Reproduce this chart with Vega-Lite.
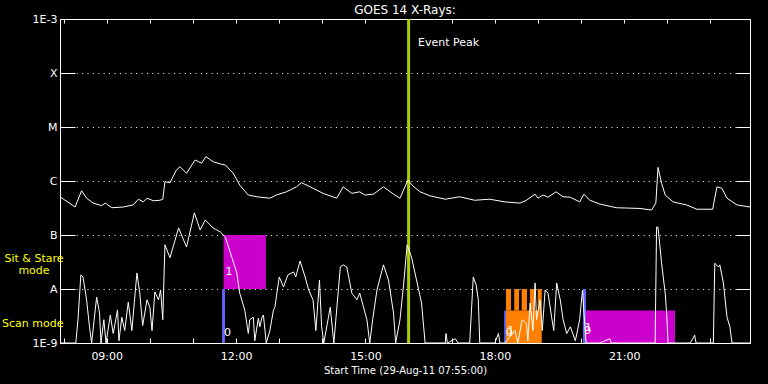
{
  "$schema": "https://vega.github.io/schema/vega-lite/v6.json",
  "autosize": {"type": "none"},
  "width": 690,
  "height": 324,
  "padding": {"left": 60, "top": 19, "right": 18, "bottom": 41},
  "background": "black",
  "config": {
    "view": {"stroke": "white", "strokeWidth": 1, "fill": "black"},
    "font": "DejaVu Sans",
    "axis": {"labelFont": "DejaVu Sans", "titleFont": "DejaVu Sans", "labelColor": "white", "titleColor": "white", "tickColor": "white", "domainColor": "white", "titleFontWeight": "normal"}
  },
  "title": {"text": "GOES 14 X-Rays:", "color": "white", "font": "DejaVu Sans", "fontSize": 12, "fontWeight": "normal", "anchor": "middle", "frame": "group", "offset": -4},
  "datasets": {
    "flux": [
      {"time": "2011-08-29T07:55Z", "flux": 5.1e-7, "channel": "long"},
      {"time": "2011-08-29T08:16Z", "flux": 3.3e-7, "channel": "long"},
      {"time": "2011-08-29T08:25Z", "flux": 6.6e-7, "channel": "long"},
      {"time": "2011-08-29T08:32Z", "flux": 4.8e-7, "channel": "long"},
      {"time": "2011-08-29T08:41Z", "flux": 3.9e-7, "channel": "long"},
      {"time": "2011-08-29T08:53Z", "flux": 3.5e-7, "channel": "long"},
      {"time": "2011-08-29T08:58Z", "flux": 3.9e-7, "channel": "long"},
      {"time": "2011-08-29T09:07Z", "flux": 3.2e-7, "channel": "long"},
      {"time": "2011-08-29T09:23Z", "flux": 3.3e-7, "channel": "long"},
      {"time": "2011-08-29T09:37Z", "flux": 3.6e-7, "channel": "long"},
      {"time": "2011-08-29T09:44Z", "flux": 4.6e-7, "channel": "long"},
      {"time": "2011-08-29T09:51Z", "flux": 4.1e-7, "channel": "long"},
      {"time": "2011-08-29T09:56Z", "flux": 4.8e-7, "channel": "long"},
      {"time": "2011-08-29T10:05Z", "flux": 4.3e-7, "channel": "long"},
      {"time": "2011-08-29T10:14Z", "flux": 4.4e-7, "channel": "long"},
      {"time": "2011-08-29T10:18Z", "flux": 4.6e-7, "channel": "long"},
      {"time": "2011-08-29T10:21Z", "flux": 9.7e-7, "channel": "long"},
      {"time": "2011-08-29T10:28Z", "flux": 9.3e-7, "channel": "long"},
      {"time": "2011-08-29T10:37Z", "flux": 1.6e-6, "channel": "long"},
      {"time": "2011-08-29T10:42Z", "flux": 1.84e-6, "channel": "long"},
      {"time": "2011-08-29T10:51Z", "flux": 1.39e-6, "channel": "long"},
      {"time": "2011-08-29T11:03Z", "flux": 2.45e-6, "channel": "long"},
      {"time": "2011-08-29T11:12Z", "flux": 2.13e-6, "channel": "long"},
      {"time": "2011-08-29T11:18Z", "flux": 2.83e-6, "channel": "long"},
      {"time": "2011-08-29T11:28Z", "flux": 2.28e-6, "channel": "long"},
      {"time": "2011-08-29T11:38Z", "flux": 2.07e-6, "channel": "long"},
      {"time": "2011-08-29T11:45Z", "flux": 1.98e-6, "channel": "long"},
      {"time": "2011-08-29T11:56Z", "flux": 1.39e-6, "channel": "long"},
      {"time": "2011-08-29T12:05Z", "flux": 8.4e-7, "channel": "long"},
      {"time": "2011-08-29T12:17Z", "flux": 5.5e-7, "channel": "long"},
      {"time": "2011-08-29T12:29Z", "flux": 5.1e-7, "channel": "long"},
      {"time": "2011-08-29T12:47Z", "flux": 4.8e-7, "channel": "long"},
      {"time": "2011-08-29T12:56Z", "flux": 5.5e-7, "channel": "long"},
      {"time": "2011-08-29T13:10Z", "flux": 6.3e-7, "channel": "long"},
      {"time": "2011-08-29T13:24Z", "flux": 7.8e-7, "channel": "long"},
      {"time": "2011-08-29T13:31Z", "flux": 9.3e-7, "channel": "long"},
      {"time": "2011-08-29T13:43Z", "flux": 7.8e-7, "channel": "long"},
      {"time": "2011-08-29T14:01Z", "flux": 5.9e-7, "channel": "long"},
      {"time": "2011-08-29T14:20Z", "flux": 4.8e-7, "channel": "long"},
      {"time": "2011-08-29T14:29Z", "flux": 7.8e-7, "channel": "long"},
      {"time": "2011-08-29T14:41Z", "flux": 5.9e-7, "channel": "long"},
      {"time": "2011-08-29T14:52Z", "flux": 6.3e-7, "channel": "long"},
      {"time": "2011-08-29T14:59Z", "flux": 5.5e-7, "channel": "long"},
      {"time": "2011-08-29T15:11Z", "flux": 5.7e-7, "channel": "long"},
      {"time": "2011-08-29T15:25Z", "flux": 7.8e-7, "channel": "long"},
      {"time": "2011-08-29T15:39Z", "flux": 5.7e-7, "channel": "long"},
      {"time": "2011-08-29T15:48Z", "flux": 4.8e-7, "channel": "long"},
      {"time": "2011-08-29T15:59Z", "flux": 1.04e-6, "channel": "long"},
      {"time": "2011-08-29T16:06Z", "flux": 8.1e-7, "channel": "long"},
      {"time": "2011-08-29T16:16Z", "flux": 6.3e-7, "channel": "long"},
      {"time": "2011-08-29T16:30Z", "flux": 5.3e-7, "channel": "long"},
      {"time": "2011-08-29T16:51Z", "flux": 4.6e-7, "channel": "long"},
      {"time": "2011-08-29T17:11Z", "flux": 5.1e-7, "channel": "long"},
      {"time": "2011-08-29T17:32Z", "flux": 4.4e-7, "channel": "long"},
      {"time": "2011-08-29T17:53Z", "flux": 4.6e-7, "channel": "long"},
      {"time": "2011-08-29T18:14Z", "flux": 4.1e-7, "channel": "long"},
      {"time": "2011-08-29T18:35Z", "flux": 3.9e-7, "channel": "long"},
      {"time": "2011-08-29T18:44Z", "flux": 4.4e-7, "channel": "long"},
      {"time": "2011-08-29T18:56Z", "flux": 5.7e-7, "channel": "long"},
      {"time": "2011-08-29T19:00Z", "flux": 4.8e-7, "channel": "long"},
      {"time": "2011-08-29T19:07Z", "flux": 5.5e-7, "channel": "long"},
      {"time": "2011-08-29T19:14Z", "flux": 5.0e-7, "channel": "long"},
      {"time": "2011-08-29T19:25Z", "flux": 6.3e-7, "channel": "long"},
      {"time": "2011-08-29T19:35Z", "flux": 5.1e-7, "channel": "long"},
      {"time": "2011-08-29T19:45Z", "flux": 5.0e-7, "channel": "long"},
      {"time": "2011-08-29T19:58Z", "flux": 4.1e-7, "channel": "long"},
      {"time": "2011-08-29T20:04Z", "flux": 5.7e-7, "channel": "long"},
      {"time": "2011-08-29T20:12Z", "flux": 4.4e-7, "channel": "long"},
      {"time": "2011-08-29T20:26Z", "flux": 3.75e-7, "channel": "long"},
      {"time": "2011-08-29T20:49Z", "flux": 3.2e-7, "channel": "long"},
      {"time": "2011-08-29T21:22Z", "flux": 3.1e-7, "channel": "long"},
      {"time": "2011-08-29T21:38Z", "flux": 2.9e-7, "channel": "long"},
      {"time": "2011-08-29T21:44Z", "flux": 3.9e-7, "channel": "long"},
      {"time": "2011-08-29T21:47Z", "flux": 1.79e-6, "channel": "long"},
      {"time": "2011-08-29T21:52Z", "flux": 9.1e-7, "channel": "long"},
      {"time": "2011-08-29T21:57Z", "flux": 5.5e-7, "channel": "long"},
      {"time": "2011-08-29T22:08Z", "flux": 4.1e-7, "channel": "long"},
      {"time": "2011-08-29T22:27Z", "flux": 3.6e-7, "channel": "long"},
      {"time": "2011-08-29T22:41Z", "flux": 3.0e-7, "channel": "long"},
      {"time": "2011-08-29T23:03Z", "flux": 3.0e-7, "channel": "long"},
      {"time": "2011-08-29T23:09Z", "flux": 7.8e-7, "channel": "long"},
      {"time": "2011-08-29T23:16Z", "flux": 7.3e-7, "channel": "long"},
      {"time": "2011-08-29T23:23Z", "flux": 4.8e-7, "channel": "long"},
      {"time": "2011-08-29T23:37Z", "flux": 3.6e-7, "channel": "long"},
      {"time": "2011-08-29T23:55Z", "flux": 3.3e-7, "channel": "long"},
      {"time": "2011-08-29T07:55Z", "flux": 1e-9, "channel": "short"},
      {"time": "2011-08-29T08:17Z", "flux": 1e-9, "channel": "short"},
      {"time": "2011-08-29T08:20Z", "flux": 2.7e-9, "channel": "short"},
      {"time": "2011-08-29T08:24Z", "flux": 1.82e-8, "channel": "short"},
      {"time": "2011-08-29T08:27Z", "flux": 1.67e-8, "channel": "short"},
      {"time": "2011-08-29T08:32Z", "flux": 6.3e-9, "channel": "short"},
      {"time": "2011-08-29T08:36Z", "flux": 2.0e-9, "channel": "short"},
      {"time": "2011-08-29T08:39Z", "flux": 1e-9, "channel": "short"},
      {"time": "2011-08-29T08:46Z", "flux": 7.1e-9, "channel": "short"},
      {"time": "2011-08-29T08:50Z", "flux": 3.6e-9, "channel": "short"},
      {"time": "2011-08-29T08:52Z", "flux": 1e-9, "channel": "short"},
      {"time": "2011-08-29T08:56Z", "flux": 2.7e-9, "channel": "short"},
      {"time": "2011-08-29T08:59Z", "flux": 1e-9, "channel": "short"},
      {"time": "2011-08-29T09:05Z", "flux": 3.3e-9, "channel": "short"},
      {"time": "2011-08-29T09:09Z", "flux": 1.5e-9, "channel": "short"},
      {"time": "2011-08-29T09:15Z", "flux": 4.1e-9, "channel": "short"},
      {"time": "2011-08-29T09:17Z", "flux": 1.1e-9, "channel": "short"},
      {"time": "2011-08-29T09:21Z", "flux": 3.0e-9, "channel": "short"},
      {"time": "2011-08-29T09:25Z", "flux": 1.7e-9, "channel": "short"},
      {"time": "2011-08-29T09:30Z", "flux": 5.7e-9, "channel": "short"},
      {"time": "2011-08-29T09:35Z", "flux": 1.7e-9, "channel": "short"},
      {"time": "2011-08-29T09:42Z", "flux": 1.98e-8, "channel": "short"},
      {"time": "2011-08-29T09:46Z", "flux": 8.4e-9, "channel": "short"},
      {"time": "2011-08-29T09:50Z", "flux": 2.1e-9, "channel": "short"},
      {"time": "2011-08-29T09:56Z", "flux": 6.3e-9, "channel": "short"},
      {"time": "2011-08-29T10:00Z", "flux": 4.6e-9, "channel": "short"},
      {"time": "2011-08-29T10:03Z", "flux": 1.7e-9, "channel": "short"},
      {"time": "2011-08-29T10:07Z", "flux": 8.8e-9, "channel": "short"},
      {"time": "2011-08-29T10:12Z", "flux": 6.3e-9, "channel": "short"},
      {"time": "2011-08-29T10:15Z", "flux": 9.6e-9, "channel": "short"},
      {"time": "2011-08-29T10:18Z", "flux": 2.7e-9, "channel": "short"},
      {"time": "2011-08-29T10:21Z", "flux": 6.6e-8, "channel": "short"},
      {"time": "2011-08-29T10:28Z", "flux": 3.8e-8, "channel": "short"},
      {"time": "2011-08-29T10:40Z", "flux": 1.35e-7, "channel": "short"},
      {"time": "2011-08-29T10:51Z", "flux": 6.0e-8, "channel": "short"},
      {"time": "2011-08-29T11:02Z", "flux": 2.57e-7, "channel": "short"},
      {"time": "2011-08-29T11:10Z", "flux": 1.24e-7, "channel": "short"},
      {"time": "2011-08-29T11:17Z", "flux": 1.9e-7, "channel": "short"},
      {"time": "2011-08-29T11:28Z", "flux": 1.35e-7, "channel": "short"},
      {"time": "2011-08-29T11:38Z", "flux": 1.14e-7, "channel": "short"},
      {"time": "2011-08-29T11:45Z", "flux": 9.2e-8, "channel": "short"},
      {"time": "2011-08-29T11:54Z", "flux": 3.9e-8, "channel": "short"},
      {"time": "2011-08-29T12:01Z", "flux": 1.98e-8, "channel": "short"},
      {"time": "2011-08-29T12:05Z", "flux": 8.4e-9, "channel": "short"},
      {"time": "2011-08-29T12:12Z", "flux": 4.1e-9, "channel": "short"},
      {"time": "2011-08-29T12:17Z", "flux": 1.5e-9, "channel": "short"},
      {"time": "2011-08-29T12:19Z", "flux": 2.7e-9, "channel": "short"},
      {"time": "2011-08-29T12:24Z", "flux": 3.0e-9, "channel": "short"},
      {"time": "2011-08-29T12:26Z", "flux": 1.1e-9, "channel": "short"},
      {"time": "2011-08-29T12:31Z", "flux": 2.9e-9, "channel": "short"},
      {"time": "2011-08-29T12:33Z", "flux": 2.0e-9, "channel": "short"},
      {"time": "2011-08-29T12:36Z", "flux": 3.0e-9, "channel": "short"},
      {"time": "2011-08-29T12:38Z", "flux": 3.3e-9, "channel": "short"},
      {"time": "2011-08-29T12:42Z", "flux": 1e-9, "channel": "short"},
      {"time": "2011-08-29T12:47Z", "flux": 1.7e-9, "channel": "short"},
      {"time": "2011-08-29T12:52Z", "flux": 4.1e-9, "channel": "short"},
      {"time": "2011-08-29T12:54Z", "flux": 4.6e-9, "channel": "short"},
      {"time": "2011-08-29T13:00Z", "flux": 1.67e-8, "channel": "short"},
      {"time": "2011-08-29T13:06Z", "flux": 1.09e-8, "channel": "short"},
      {"time": "2011-08-29T13:12Z", "flux": 1.82e-8, "channel": "short"},
      {"time": "2011-08-29T13:20Z", "flux": 2.07e-8, "channel": "short"},
      {"time": "2011-08-29T13:23Z", "flux": 1.67e-8, "channel": "short"},
      {"time": "2011-08-29T13:29Z", "flux": 3.3e-8, "channel": "short"},
      {"time": "2011-08-29T13:36Z", "flux": 1.67e-8, "channel": "short"},
      {"time": "2011-08-29T13:41Z", "flux": 9.6e-9, "channel": "short"},
      {"time": "2011-08-29T13:47Z", "flux": 6.3e-9, "channel": "short"},
      {"time": "2011-08-29T13:51Z", "flux": 1.7e-9, "channel": "short"},
      {"time": "2011-08-29T13:56Z", "flux": 1.47e-8, "channel": "short"},
      {"time": "2011-08-29T13:59Z", "flux": 2.0e-9, "channel": "short"},
      {"time": "2011-08-29T14:02Z", "flux": 1e-9, "channel": "short"},
      {"time": "2011-08-29T14:11Z", "flux": 4.6e-9, "channel": "short"},
      {"time": "2011-08-29T14:16Z", "flux": 1e-9, "channel": "short"},
      {"time": "2011-08-29T14:25Z", "flux": 2.56e-8, "channel": "short"},
      {"time": "2011-08-29T14:29Z", "flux": 2.8e-8, "channel": "short"},
      {"time": "2011-08-29T14:34Z", "flux": 2.56e-8, "channel": "short"},
      {"time": "2011-08-29T14:41Z", "flux": 8.4e-9, "channel": "short"},
      {"time": "2011-08-29T14:48Z", "flux": 6.3e-9, "channel": "short"},
      {"time": "2011-08-29T14:52Z", "flux": 8.4e-9, "channel": "short"},
      {"time": "2011-08-29T15:02Z", "flux": 2.7e-9, "channel": "short"},
      {"time": "2011-08-29T15:06Z", "flux": 1e-9, "channel": "short"},
      {"time": "2011-08-29T15:10Z", "flux": 2.7e-9, "channel": "short"},
      {"time": "2011-08-29T15:16Z", "flux": 9.6e-9, "channel": "short"},
      {"time": "2011-08-29T15:25Z", "flux": 2.8e-8, "channel": "short"},
      {"time": "2011-08-29T15:32Z", "flux": 1.47e-8, "channel": "short"},
      {"time": "2011-08-29T15:39Z", "flux": 3.6e-9, "channel": "short"},
      {"time": "2011-08-29T15:42Z", "flux": 1e-9, "channel": "short"},
      {"time": "2011-08-29T15:48Z", "flux": 2.7e-9, "channel": "short"},
      {"time": "2011-08-29T15:53Z", "flux": 1.19e-8, "channel": "short"},
      {"time": "2011-08-29T15:58Z", "flux": 6.6e-8, "channel": "short"},
      {"time": "2011-08-29T16:04Z", "flux": 3.9e-8, "channel": "short"},
      {"time": "2011-08-29T16:11Z", "flux": 1.47e-8, "channel": "short"},
      {"time": "2011-08-29T16:18Z", "flux": 5.5e-9, "channel": "short"},
      {"time": "2011-08-29T16:23Z", "flux": 1e-9, "channel": "short"},
      {"time": "2011-08-29T16:51Z", "flux": 1e-9, "channel": "short"},
      {"time": "2011-08-29T16:52Z", "flux": 1.5e-9, "channel": "short"},
      {"time": "2011-08-29T16:54Z", "flux": 1e-9, "channel": "short"},
      {"time": "2011-08-29T17:05Z", "flux": 1.2e-9, "channel": "short"},
      {"time": "2011-08-29T17:09Z", "flux": 1e-9, "channel": "short"},
      {"time": "2011-08-29T17:25Z", "flux": 1e-9, "channel": "short"},
      {"time": "2011-08-29T17:30Z", "flux": 1.67e-8, "channel": "short"},
      {"time": "2011-08-29T17:34Z", "flux": 1.19e-8, "channel": "short"},
      {"time": "2011-08-29T17:37Z", "flux": 6.3e-9, "channel": "short"},
      {"time": "2011-08-29T17:39Z", "flux": 1e-9, "channel": "short"},
      {"time": "2011-08-29T18:00Z", "flux": 1e-9, "channel": "short"},
      {"time": "2011-08-29T18:05Z", "flux": 1.5e-9, "channel": "short"},
      {"time": "2011-08-29T18:07Z", "flux": 1e-9, "channel": "short"},
      {"time": "2011-08-29T18:14Z", "flux": 1e-9, "channel": "short"},
      {"time": "2011-08-29T18:28Z", "flux": 1.7e-9, "channel": "short"},
      {"time": "2011-08-29T18:32Z", "flux": 1e-9, "channel": "short"},
      {"time": "2011-08-29T18:38Z", "flux": 2.7e-9, "channel": "short"},
      {"time": "2011-08-29T18:44Z", "flux": 2.3e-9, "channel": "short"},
      {"time": "2011-08-29T18:46Z", "flux": 1.1e-9, "channel": "short"},
      {"time": "2011-08-29T18:49Z", "flux": 5.5e-9, "channel": "short"},
      {"time": "2011-08-29T18:53Z", "flux": 1.7e-9, "channel": "short"},
      {"time": "2011-08-29T18:56Z", "flux": 1.29e-8, "channel": "short"},
      {"time": "2011-08-29T18:58Z", "flux": 2.7e-9, "channel": "short"},
      {"time": "2011-08-29T19:03Z", "flux": 6.3e-9, "channel": "short"},
      {"time": "2011-08-29T19:06Z", "flux": 1.7e-9, "channel": "short"},
      {"time": "2011-08-29T19:10Z", "flux": 9.6e-9, "channel": "short"},
      {"time": "2011-08-29T19:14Z", "flux": 8.4e-9, "channel": "short"},
      {"time": "2011-08-29T19:19Z", "flux": 3.0e-9, "channel": "short"},
      {"time": "2011-08-29T19:22Z", "flux": 1.7e-9, "channel": "short"},
      {"time": "2011-08-29T19:26Z", "flux": 1.29e-8, "channel": "short"},
      {"time": "2011-08-29T19:31Z", "flux": 6.3e-9, "channel": "short"},
      {"time": "2011-08-29T19:35Z", "flux": 2.7e-9, "channel": "short"},
      {"time": "2011-08-29T19:40Z", "flux": 1.5e-9, "channel": "short"},
      {"time": "2011-08-29T19:45Z", "flux": 2.0e-9, "channel": "short"},
      {"time": "2011-08-29T19:52Z", "flux": 1.1e-9, "channel": "short"},
      {"time": "2011-08-29T19:58Z", "flux": 2.7e-9, "channel": "short"},
      {"time": "2011-08-29T20:02Z", "flux": 9.6e-9, "channel": "short"},
      {"time": "2011-08-29T20:04Z", "flux": 3.6e-9, "channel": "short"},
      {"time": "2011-08-29T20:07Z", "flux": 1e-9, "channel": "short"},
      {"time": "2011-08-29T20:26Z", "flux": 1e-9, "channel": "short"},
      {"time": "2011-08-29T20:40Z", "flux": 1.2e-9, "channel": "short"},
      {"time": "2011-08-29T20:42Z", "flux": 1e-9, "channel": "short"},
      {"time": "2011-08-29T21:22Z", "flux": 1e-9, "channel": "short"},
      {"time": "2011-08-29T21:43Z", "flux": 1e-9, "channel": "short"},
      {"time": "2011-08-29T21:45Z", "flux": 1.4e-7, "channel": "short"},
      {"time": "2011-08-29T21:47Z", "flux": 1.4e-7, "channel": "short"},
      {"time": "2011-08-29T21:52Z", "flux": 3.0e-8, "channel": "short"},
      {"time": "2011-08-29T21:57Z", "flux": 8.4e-9, "channel": "short"},
      {"time": "2011-08-29T21:59Z", "flux": 3.6e-9, "channel": "short"},
      {"time": "2011-08-29T22:01Z", "flux": 1e-9, "channel": "short"},
      {"time": "2011-08-29T22:32Z", "flux": 1e-9, "channel": "short"},
      {"time": "2011-08-29T22:38Z", "flux": 1.4e-9, "channel": "short"},
      {"time": "2011-08-29T22:40Z", "flux": 1e-9, "channel": "short"},
      {"time": "2011-08-29T23:04Z", "flux": 1e-9, "channel": "short"},
      {"time": "2011-08-29T23:06Z", "flux": 3.0e-8, "channel": "short"},
      {"time": "2011-08-29T23:11Z", "flux": 2.56e-8, "channel": "short"},
      {"time": "2011-08-29T23:13Z", "flux": 2.8e-8, "channel": "short"},
      {"time": "2011-08-29T23:18Z", "flux": 1.29e-8, "channel": "short"},
      {"time": "2011-08-29T23:23Z", "flux": 3.0e-9, "channel": "short"},
      {"time": "2011-08-29T23:27Z", "flux": 2.0e-9, "channel": "short"},
      {"time": "2011-08-29T23:30Z", "flux": 1e-9, "channel": "short"},
      {"time": "2011-08-29T23:55Z", "flux": 1e-9, "channel": "short"}
    ],
    "modes": [
      {"start": "2011-08-29T11:40:30Z", "end": "2011-08-29T11:44:30Z", "low": 1e-9, "high": 1e-8, "mode": "scan"},
      {"start": "2011-08-29T11:42:30Z", "end": "2011-08-29T12:41:30Z", "low": 1e-8, "high": 1e-7, "mode": "stare"},
      {"start": "2011-08-29T18:13:00Z", "end": "2011-08-29T18:15:30Z", "low": 1e-9, "high": 4e-9, "mode": "scan"},
      {"start": "2011-08-29T18:15:30Z", "end": "2011-08-29T19:05:15Z", "low": 1e-9, "high": 4e-9, "mode": "other"},
      {"start": "2011-08-29T18:15:30Z", "end": "2011-08-29T18:22:30Z", "low": 4e-9, "high": 1e-8, "mode": "other"},
      {"start": "2011-08-29T18:27:00Z", "end": "2011-08-29T18:33:40Z", "low": 4e-9, "high": 1e-8, "mode": "other"},
      {"start": "2011-08-29T18:37:20Z", "end": "2011-08-29T18:44:40Z", "low": 4e-9, "high": 1e-8, "mode": "other"},
      {"start": "2011-08-29T18:48:50Z", "end": "2011-08-29T18:55:50Z", "low": 4e-9, "high": 1e-8, "mode": "other"},
      {"start": "2011-08-29T18:59:40Z", "end": "2011-08-29T19:05:15Z", "low": 4e-9, "high": 1e-8, "mode": "other"},
      {"start": "2011-08-29T20:02:40Z", "end": "2011-08-29T20:06:50Z", "low": 1e-9, "high": 1e-8, "mode": "scan"},
      {"start": "2011-08-29T20:06:50Z", "end": "2011-08-29T22:10:40Z", "low": 1e-9, "high": 4e-9, "mode": "stare"}
    ],
    "digits": [
      {"time": "2011-08-29T11:48Z", "flux": 1.53e-9, "text": "0"},
      {"time": "2011-08-29T11:50Z", "flux": 2.05e-8, "text": "1"},
      {"time": "2011-08-29T18:20Z", "flux": 1.5e-9, "text": "0"},
      {"time": "2011-08-29T18:22Z", "flux": 1.7e-9, "text": "1"},
      {"time": "2011-08-29T20:09Z", "flux": 1.7e-9, "text": "0"},
      {"time": "2011-08-29T20:10Z", "flux": 1.9e-9, "text": "1"}
    ]
  },
  "resolve": {"axis": {"x": "independent", "y": "independent"}},
  "layer": [
    {
      "data": {"name": "modes"},
      "mark": {"type": "rect"},
      "encoding": {
        "x": {"field": "start", "type": "temporal",
          "scale": {"type": "utc", "domain": [{"year": 2011, "month": 8, "date": 29, "hours": 7, "minutes": 55, "utc": true}, {"year": 2011, "month": 8, "date": 29, "hours": 23, "minutes": 55, "utc": true}]},
          "axis": {"orient": "bottom", "title": "Start Time (29-Aug-11 07:55:00)", "titleFontSize": 10, "titlePadding": 4, "labelFontSize": 11, "grid": false, "domain": false,
            "values": [{"year": 2011, "month": 8, "date": 29, "hours": 8, "utc": true}, {"year": 2011, "month": 8, "date": 29, "hours": 9, "utc": true}, {"year": 2011, "month": 8, "date": 29, "hours": 10, "utc": true}, {"year": 2011, "month": 8, "date": 29, "hours": 11, "utc": true}, {"year": 2011, "month": 8, "date": 29, "hours": 12, "utc": true}, {"year": 2011, "month": 8, "date": 29, "hours": 13, "utc": true}, {"year": 2011, "month": 8, "date": 29, "hours": 14, "utc": true}, {"year": 2011, "month": 8, "date": 29, "hours": 15, "utc": true}, {"year": 2011, "month": 8, "date": 29, "hours": 16, "utc": true}, {"year": 2011, "month": 8, "date": 29, "hours": 17, "utc": true}, {"year": 2011, "month": 8, "date": 29, "hours": 18, "utc": true}, {"year": 2011, "month": 8, "date": 29, "hours": 19, "utc": true}, {"year": 2011, "month": 8, "date": 29, "hours": 20, "utc": true}, {"year": 2011, "month": 8, "date": 29, "hours": 21, "utc": true}, {"year": 2011, "month": 8, "date": 29, "hours": 22, "utc": true}, {"year": 2011, "month": 8, "date": 29, "hours": 23, "utc": true}],
            "labelExpr": "utchours(datum.value) % 3 == 0 ? utcFormat(datum.value, '%H:%M') : ''",
            "tickSize": -5, "labelPadding": 12, "labelFlush": false, "labelOverlap": false}},
        "x2": {"field": "end"},
        "y": {"field": "low", "type": "quantitative",
          "scale": {"type": "log", "domain": [1e-9, 1e-3], "nice": false},
          "axis": {"orient": "left", "title": null, "values": [1e-9, 1e-8, 1e-7, 1e-6, 1e-5, 1e-4, 1e-3], "labelExpr": "['1E-9','A','B','C','M','X','1E-3'][round(log(datum.value)/LN10)+9]", "labelFontSize": 11, "tickSize": -15, "labelPadding": 18, "grid": true, "gridColor": "white", "gridDash": [1, 4.4], "gridWidth": 1, "domain": false, "labelFlush": false, "labelOverlap": false}},
        "y2": {"field": "high"},
        "color": {"field": "mode", "type": "nominal", "scale": {"domain": ["scan", "stare", "other"], "range": ["#6464ff", "#cc00cc", "#ff8000"]}, "legend": null}
      }
    },
    {
      "data": {"values": [{"event": "Event Peak"}]},
      "mark": {"type": "rule", "color": "#a4d000", "strokeWidth": 3},
      "encoding": {"x": {"datum": {"year": 2011, "month": 8, "date": 29, "hours": 16, "minutes": 0, "utc": true}, "type": "temporal", "axis": null}}
    },
    {
      "data": {"name": "flux"},
      "mark": {"type": "line", "color": "white", "strokeWidth": 1, "clip": true},
      "encoding": {
        "x": {"field": "time", "type": "temporal",
          "axis": {"orient": "top", "title": null, "labels": false, "grid": false, "domain": false, "tickSize": -4,
            "values": [{"year": 2011, "month": 8, "date": 29, "hours": 8, "utc": true}, {"year": 2011, "month": 8, "date": 29, "hours": 9, "utc": true}, {"year": 2011, "month": 8, "date": 29, "hours": 10, "utc": true}, {"year": 2011, "month": 8, "date": 29, "hours": 11, "utc": true}, {"year": 2011, "month": 8, "date": 29, "hours": 12, "utc": true}, {"year": 2011, "month": 8, "date": 29, "hours": 13, "utc": true}, {"year": 2011, "month": 8, "date": 29, "hours": 14, "utc": true}, {"year": 2011, "month": 8, "date": 29, "hours": 15, "utc": true}, {"year": 2011, "month": 8, "date": 29, "hours": 16, "utc": true}, {"year": 2011, "month": 8, "date": 29, "hours": 17, "utc": true}, {"year": 2011, "month": 8, "date": 29, "hours": 18, "utc": true}, {"year": 2011, "month": 8, "date": 29, "hours": 19, "utc": true}, {"year": 2011, "month": 8, "date": 29, "hours": 20, "utc": true}, {"year": 2011, "month": 8, "date": 29, "hours": 21, "utc": true}, {"year": 2011, "month": 8, "date": 29, "hours": 22, "utc": true}, {"year": 2011, "month": 8, "date": 29, "hours": 23, "utc": true}]}},
        "y": {"field": "flux", "type": "quantitative",
          "axis": {"orient": "right", "title": null, "labels": false, "grid": false, "domain": false, "tickSize": -14, "values": [1e-9, 1e-8, 1e-7, 1e-6, 1e-5, 1e-4, 1e-3]}},
        "detail": {"field": "channel"}
      }
    },
    {
      "data": {"name": "digits"},
      "mark": {"type": "text", "color": "white", "font": "DejaVu Sans", "fontSize": 11, "align": "center", "baseline": "middle"},
      "encoding": {
        "x": {"field": "time", "type": "temporal", "axis": null},
        "y": {"field": "flux", "type": "quantitative", "axis": null},
        "text": {"field": "text"}
      }
    },
    {
      "data": {"values": [{"time": "2011-08-29T16:13Z", "flux": 3.6e-4, "label": "Event Peak"}]},
      "mark": {"type": "text", "color": "white", "font": "DejaVu Sans", "fontSize": 11, "align": "left", "baseline": "middle"},
      "encoding": {
        "x": {"field": "time", "type": "temporal", "axis": null},
        "y": {"field": "flux", "type": "quantitative", "axis": null},
        "text": {"field": "label"}
      }
    },
    {
      "data": {"values": [{"flux": 3.52e-8, "label": "Sit & Stare"}, {"flux": 2.14e-8, "label": "mode"}]},
      "mark": {"type": "text", "color": "#ffff00", "font": "DejaVu Sans", "fontSize": 11, "align": "center", "baseline": "middle", "dx": -26},
      "encoding": {
        "x": {"datum": {"year": 2011, "month": 8, "date": 29, "hours": 7, "minutes": 55, "utc": true}, "type": "temporal", "axis": null},
        "y": {"field": "flux", "type": "quantitative", "axis": null},
        "text": {"field": "label"}
      }
    },
    {
      "data": {"values": [{"flux": 2.26e-9, "label": "Scan mode"}]},
      "mark": {"type": "text", "color": "#ffff00", "font": "DejaVu Sans", "fontSize": 11, "align": "left", "baseline": "middle", "dx": -58},
      "encoding": {
        "x": {"datum": {"year": 2011, "month": 8, "date": 29, "hours": 7, "minutes": 55, "utc": true}, "type": "temporal", "axis": null},
        "y": {"field": "flux", "type": "quantitative", "axis": null},
        "text": {"field": "label"}
      }
    }
  ]
}
